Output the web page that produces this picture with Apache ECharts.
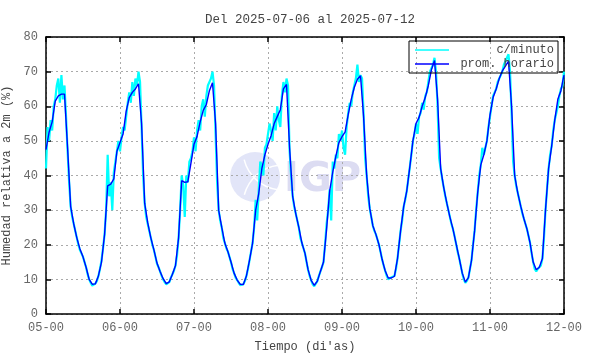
<!DOCTYPE html>
<html>
<head>
<meta charset="utf-8">
<script src="https://cdn.jsdelivr.net/npm/echarts@6/dist/echarts.min.js"></script>
<style>
  html, body { margin: 0; padding: 0; background: #fff; }
  #chart { width: 590px; height: 354px; }
</style>
</head>
<body>
<div id="chart"></div>
<script>
// tick labels (one per day, hours counted from 05-00)
const dayLabels = ['05-00', '06-00', '07-00', '08-00', '09-00', '10-00', '11-00', '12-00'];

// prom. horario - one value per hour
const hourly05 = [47.5, 52.5, 55.5, 61.5, 63, 63.5, 63.5, 48, 31, 26, 22, 18.8, 16.5, 13.5, 10, 8.6, 8.7, 11, 15, 23, 37, 37.5, 39, 47];
const hourly06 = [49.5, 52, 58.5, 62.5, 64, 65, 66.5, 55, 32, 26.3, 22, 18.5, 14.7, 12.3, 10.2, 8.8, 9.3, 11.5, 14, 22, 38.5, 38, 38.2, 43.5];
const hourly07 = [49, 51.3, 55.5, 58.8, 60.5, 64.5, 66.8, 55, 30, 25, 20.5, 18, 15, 11.8, 9.8, 8.6, 8.5, 11, 15.5, 20.5, 30, 34.8, 42, 46];
const hourly08 = [49, 51.5, 55, 57, 59, 65, 66.3, 48, 34, 29, 25, 20.5, 17.5, 12.8, 9.7, 8.3, 9.5, 12.3, 15, 24.5, 35.5, 41, 45.5, 49.5];
const hourly09 = [51.2, 52.5, 57.5, 62, 65.5, 67.8, 68.8, 57, 40, 30.5, 25.5, 23, 20, 15.8, 12.5, 10.4, 10.4, 10.9, 16, 24, 31, 35.5, 42.5, 50];
const hourly10 = [55, 56.8, 60, 62.5, 66, 70.5, 73.2, 62, 42, 36.5, 32, 28, 24.5, 20.3, 16.2, 11.8, 9.2, 10.5, 15.5, 24, 35, 43, 46, 50];
const hourly11 = [57.5, 62.5, 65, 68, 70.2, 71.6, 73, 60, 40, 35, 31, 27.5, 24.5, 20.5, 15, 12.8, 13.5, 16, 30, 42, 48.5, 56, 62, 64.5, 69];

// c/minuto - read every half hour
const minute05 = [42, 54, 50, 56, 53, 60, 62, 66, 68, 61, 69, 62, 66, 57, 47, 38, 31, 28, 26, 24, 22, 20, 18.5, 17.5,
                  16.5, 15, 13.5, 11.5, 10, 9, 8.2, 8.4, 8.8, 9.5, 11, 13, 15.5, 19, 23, 30, 46, 34, 38, 30, 41, 44, 47, 50];
const minute06 = [47, 51, 54, 53, 57, 61, 64, 61, 67, 63, 68, 66, 70, 67, 54, 40, 32, 28, 26, 24, 22, 20, 18.5, 16.5,
                  14.5, 13.5, 12.3, 11, 10, 9.2, 8.6, 8.8, 9.2, 10.5, 11.5, 12.5, 14, 17, 22, 30, 40, 37, 28, 40, 38, 44, 45, 47];
const minute07 = [51, 47, 53, 56, 53, 60, 62, 57, 63, 66, 66, 68, 70, 66, 52, 38, 30, 27, 25, 22, 20.5, 19, 18, 16.5,
                  15, 13, 11.8, 10.5, 9.8, 9, 8.3, 8.4, 8.6, 9.5, 11, 13, 15.5, 18, 20.5, 25, 33, 27, 36, 44, 43, 40, 48, 49];
const minute08 = [49, 55, 53, 50, 58, 53, 60, 56, 54, 63, 67, 64, 68, 66, 47, 40, 34, 31, 29, 27, 25, 22, 20.5, 19,
                  17.5, 15, 12.8, 11, 9.7, 8.6, 8, 8.3, 9.5, 11, 12.3, 13.5, 15, 20, 26, 30, 36, 27, 44, 42, 46, 45, 52, 50];
const minute09 = [53, 48, 46, 54, 58, 61, 60, 64, 66, 68, 72, 67, 69, 68, 58, 45, 40, 34, 30.5, 28, 25.5, 24, 23, 21.5,
                  20, 18, 15.8, 14, 12.5, 11, 10, 10.2, 10.6, 10.2, 11, 13, 16, 20, 24, 27, 31, 33, 35.5, 39, 42.5, 46, 50, 52];
const minute10 = [55, 52, 57, 58, 61, 59, 63, 64, 67, 70, 70, 72, 74, 70, 60, 45, 42, 39, 36.5, 34, 32, 30, 28, 26,
                  24.5, 22.5, 20.3, 18, 16.2, 14, 11.8, 10, 9, 9.6, 10.5, 13, 15.5, 20, 24, 30, 35, 40, 43, 48, 46, 48, 50, 54];
const minute11 = [57, 60, 63, 64, 65, 67, 68, 69, 70, 72, 72, 74, 75, 70, 58, 44, 40, 37, 35, 33, 31, 29, 27.5, 26,
                  24.5, 22.5, 20.5, 17.5, 15, 13, 12.3, 13, 13, 14, 16, 22, 30, 36, 42, 46, 48.5, 53, 56, 58, 60, 63, 65, 66, 70];

const hourly = [].concat(hourly05, hourly06, hourly07, hourly08, hourly09, hourly10, hourly11);
const minute = [].concat(minute05, minute06, minute07, minute08, minute09, minute10, minute11);

const font = '"Liberation Mono", "DejaVu Sans Mono", monospace';

const chart = echarts.init(document.getElementById('chart'), null, { renderer: 'canvas' });

const xBase = {
  type: 'value', min: 0, max: 168, interval: 24,
  axisLine: { show: true, onZero: false, lineStyle: { color: '#000', width: 1.5 } },
  axisTick: { show: true, inside: true, length: 5, lineStyle: { color: '#000', width: 1.5 } }
};
const yBase = {
  type: 'value', min: 0, max: 80, interval: 10,
  axisLine: { show: true, onZero: false, lineStyle: { color: '#000', width: 1.5 } },
  axisTick: { show: true, inside: true, length: 5, lineStyle: { color: '#000', width: 1.5 } }
};
const dotted = { show: true, lineStyle: { color: '#aaa', type: [2, 3], width: 1 } };

chart.setOption({
  animation: false,
  backgroundColor: '#fff',
  title: {
    text: 'Del 2025-07-06 al 2025-07-12',
    left: 305, top: 8, textAlign: 'center',
    textStyle: { fontFamily: font, fontSize: 12.5, fontWeight: 'normal', color: '#444' }
  },
  graphic: [
    { type: 'circle', z: -1, shape: { cx: 255, cy: 177, r: 25 }, style: { fill: '#e2e5f8' } },
    { type: 'arc', z: -1, shape: { cx: 283, cy: 150, r: 40, startAngle: 1.7, endAngle: 2.9 },
      style: { stroke: '#fff', lineWidth: 1.5, fill: null } },
    { type: 'arc', z: -1, shape: { cx: 283, cy: 205, r: 40, startAngle: 3.4, endAngle: 4.6 },
      style: { stroke: '#fff', lineWidth: 1.5, fill: null } },
    { type: 'text', z: -1, left: 284, top: 161,
      style: { text: 'IGP', fontFamily: 'DejaVu Sans', fontWeight: 'bold', fontSize: 40, fill: '#dcdcf2' } }
  ],
  legend: {
    left: 409, top: 41, orient: 'vertical',
    icon: 'rect', itemWidth: 34, itemHeight: 1.5, itemGap: 2,
    padding: [3, 4, 3, 6],
    borderColor: '#000', borderWidth: 1,
    data: ['c/minuto', 'prom. horario'],
    formatter: name => '{t|' + name + '}',
    textStyle: {
      fontFamily: font, fontSize: 12, color: '#444',
      rich: { t: { width: 100, height: 10, align: 'right', fontFamily: font, fontSize: 12, color: '#444' } }
    }
  },
  grid: { left: 46, right: 26, top: 37, bottom: 40, outerBoundsMode: 'none', containLabel: false },
  xAxis: [
    Object.assign({}, xBase, {
      position: 'bottom',
      name: "Tiempo (di'as)", nameLocation: 'middle', nameGap: 27,
      nameTextStyle: { fontFamily: font, fontSize: 12, color: '#444' },
      axisLabel: { formatter: v => dayLabels[v / 24], fontFamily: font, fontSize: 12, color: '#666', margin: 8 },
      splitLine: dotted
    }),
    Object.assign({}, xBase, { position: 'top', axisLabel: { show: false }, splitLine: { show: false } })
  ],
  yAxis: [
    Object.assign({}, yBase, {
      position: 'left',
      name: 'Humedad relativa a 2m (%)', nameLocation: 'middle', nameGap: 27,
      nameTextStyle: { fontFamily: font, fontSize: 12, color: '#444' },
      axisLabel: { fontFamily: font, fontSize: 12, color: '#666', margin: 8 },
      splitLine: dotted
    }),
    Object.assign({}, yBase, { position: 'right', axisLabel: { show: false }, splitLine: { show: false } })
  ],
  series: [
    {
      name: 'c/minuto', type: 'line', symbol: 'none',
      data: minute.map((v, i) => [i / 2, v]),
      lineStyle: { color: '#00ffff', width: 2.2 },
      itemStyle: { color: '#00ffff' },
      z: 2
    },
    {
      name: 'prom. horario', type: 'line', symbol: 'none',
      data: hourly.map((v, i) => [i, v]),
      lineStyle: { color: '#0000ff', width: 1.4 },
      itemStyle: { color: '#0000ff' },
      z: 3
    }
  ]
});
</script>
</body>
</html>
